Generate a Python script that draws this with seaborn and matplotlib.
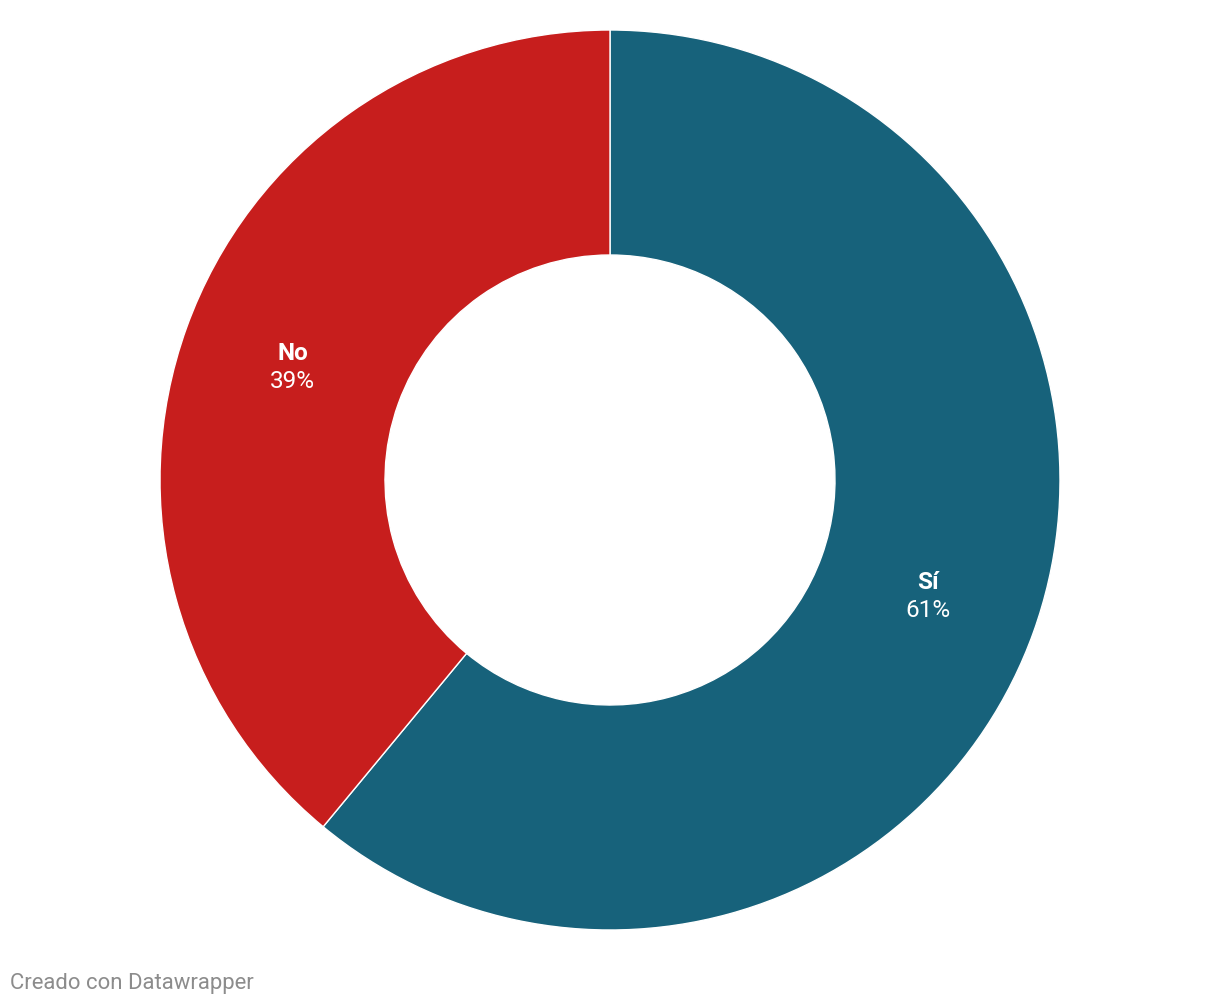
import matplotlib
matplotlib.use("Agg")
import matplotlib.pyplot as plt
import seaborn as sns
import numpy as np

# Datos
categorias = ["Sí", "No"]
valores = [61, 39]
colores = ["#17627b", "#c71e1d"]

sns.set_theme(style="white")
plt.rcParams['font.family'] = ['Roboto', 'DejaVu Sans']

W, H = 1220, 1006
fig = plt.figure(figsize=(W / 100, H / 100), dpi=100)
ax = fig.add_axes([0, 0, 1, 1])

centro = (610, H - 480)
radio = 450
ancho = 225

wedges, _ = ax.pie(valores, colors=colores, startangle=90, counterclock=False,
                   center=centro, radius=radio, frame=True,
                   wedgeprops=dict(width=ancho, edgecolor="white", linewidth=1))
ax.set_xlim(0, W)
ax.set_ylim(0, H)
ax.set_aspect("equal")
ax.axis("off")

# Etiquetas en el centro de cada sector
r_lab = radio - ancho / 2
for w, cat, val in zip(wedges, categorias, valores):
    ang = np.deg2rad((w.theta1 + w.theta2) / 2)
    x = centro[0] + r_lab * np.cos(ang)
    y = centro[1] + r_lab * np.sin(ang)
    ax.text(x, y + 12, cat, ha="center", va="center", color="white",
            fontsize=17.5, fontweight="bold")
    ax.text(x, y - 16, f"{val}%", ha="center", va="center", color="white",
            fontsize=17.5)

fig.text(10 / W, 1 - 983 / H, "Creado con Datawrapper", ha="left", va="center",
         color="#8c8c8c", fontsize=15.9)

fig.savefig("out.png", dpi=100)
